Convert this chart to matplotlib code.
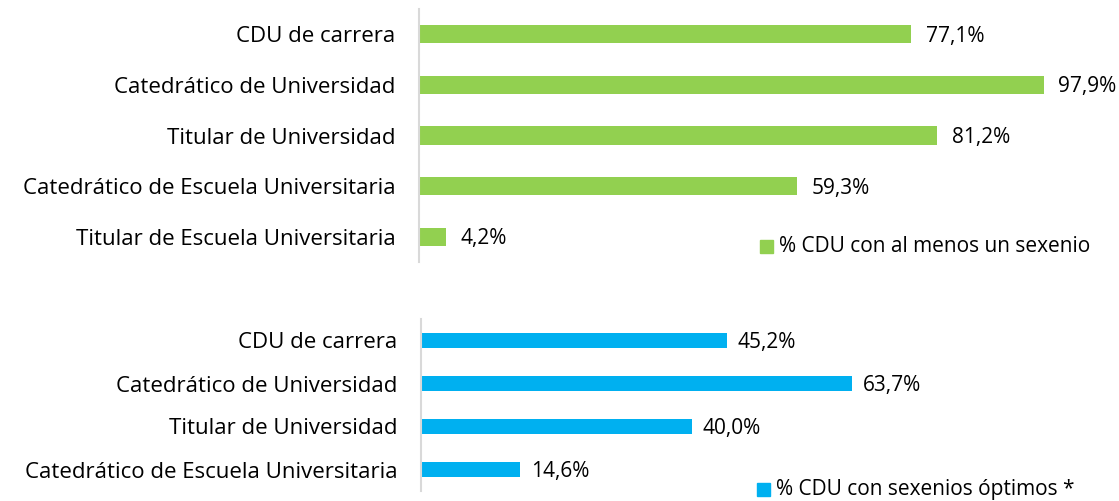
import matplotlib.pyplot as plt
from matplotlib.patches import Rectangle

plt.rcParams['font.family'] = ['Open Sans', 'DejaVu Sans']

cats_top = ['CDU de carrera', 'Catedrático de Universidad', 'Titular de Universidad',
            'Catedrático de Escuela Universitaria', 'Titular de Escuela Universitaria']
vals_top = [77.1, 97.9, 81.2, 59.3, 4.2]
cats_bot = ['CDU de carrera', 'Catedrático de Universidad', 'Titular de Universidad',
            'Catedrático de Escuela Universitaria']
vals_bot = [45.2, 63.7, 40.0, 14.6]

green = '#92d050'
blue = '#00b0f0'

W, H = 1119, 501
fig = plt.figure(figsize=(W / 100, H / 100), dpi=100)


def px_axes(x0, y0, x1, y1):
    return fig.add_axes([x0 / W, 1 - y1 / H, (x1 - x0) / W, (y1 - y0) / H])


def draw(ax, cats, vals, color, xmax, legend, leg_xy):
    y = list(range(len(cats)))
    ax.barh(y, vals, height=0.36, color=color)
    ax.set_xlim(0, xmax)
    ax.set_ylim(len(cats) - 0.5, -0.5)
    ax.set_yticks(y)
    ax.set_yticklabels(cats, fontsize=16)
    ax.tick_params(axis='y', length=0, pad=17)
    ax.set_xticks([])
    for s in ['top', 'right', 'bottom']:
        ax.spines[s].set_visible(False)
    ax.spines['left'].set_color('#d9d9d9')
    ax.spines['left'].set_linewidth(1.5)
    for yi, v in zip(y, vals):
        ax.text(v + xmax * 0.023, yi + 0.04, f'{v:.1f}%'.replace('.', ','),
                va='center', ha='left', fontsize=15)
    lx, ly = leg_xy
    fig.patches.append(Rectangle((lx / W, 1 - (ly + 6) / H), 13 / W, 13 / H,
                                 transform=fig.transFigure, color=color))
    fig.text((lx + 19) / W, 1 - ly / H, legend, va='center', ha='left', fontsize=15)


ax1 = px_axes(419, 9, 419 + 638, 262)
draw(ax1, cats_top, vals_top, green, 100, '% CDU con al menos un sexenio', (760, 247))

ax2 = px_axes(421, 319, 421 + 474, 491)
draw(ax2, cats_bot, vals_bot, blue, 70, '% CDU con sexenios óptimos *', (757, 490))

fig.savefig('out.png', dpi=100)
